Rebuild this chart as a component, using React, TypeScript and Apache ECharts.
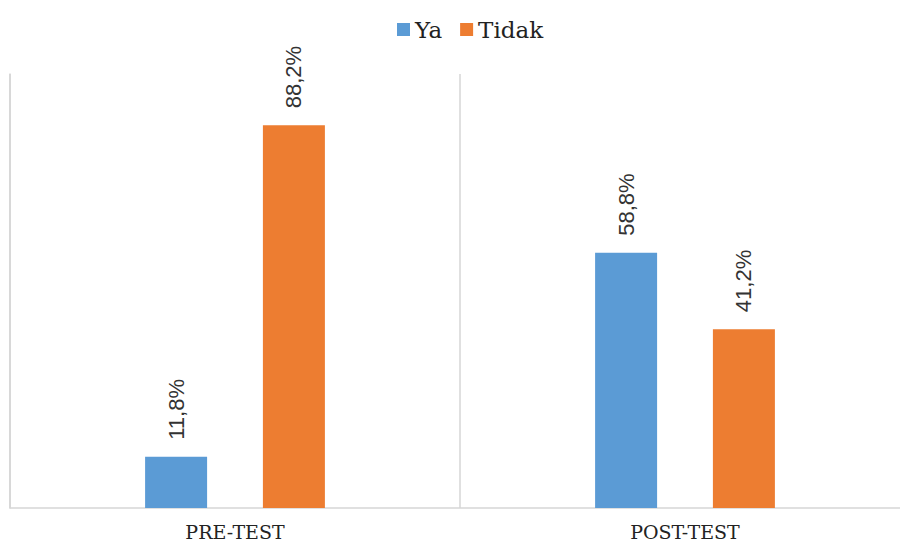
import React, { useEffect, useRef } from "react";
import * as echarts from "echarts";

const categories = ["PRE-TEST", "POST-TEST"];
const yaValues = [11.8, 58.8];
const tidakValues = [88.2, 41.2];
const seriesNames = ["Ya", "Tidak"];

export default function App() {
  const ref = useRef<HTMLDivElement>(null);
  useEffect(() => {
    document.body.style.margin = "0";
    const chart = echarts.init(ref.current!, undefined, { renderer: "svg" });
    const label = {
      show: true,
      position: "top",
      rotate: 90,
      align: "left",
      verticalAlign: "middle",
      distance: 17,
      color: "#333333",
      fontFamily: "Liberation Sans",
      fontSize: 22,
      formatter: (p: any) => p.value.toFixed(1).replace(".", ",") + "%",
    };
    chart.setOption({
      animation: false,
      legend: {
        data: seriesNames,
        left: 392,
        top: 13,
        icon: "rect",
        itemWidth: 13,
        itemHeight: 13,
        itemGap: 18,
        textStyle: { fontFamily: "DejaVu Serif", fontSize: 23, color: "#222" },
      },
      grid: { left: 10, right: 0, top: 74, bottom: 35, containLabel: false },
      xAxis: {
        type: "category",
        data: categories,
        axisLine: { show: true, lineStyle: { color: "#d6d6d6", width: 1.5 } },
        axisTick: { show: false },
        splitLine: { show: true, lineStyle: { color: "#d6d6d6", width: 1.5 } },
        axisLabel: {
          margin: 14,
          fontFamily: "DejaVu Serif",
          fontSize: 19,
          color: "#222",
        },
      },
      yAxis: {
        type: "value",
        min: 0,
        max: 100,
        axisLine: { show: true, lineStyle: { color: "#d6d6d6", width: 1.5 } },
        axisTick: { show: false },
        axisLabel: { show: false },
        splitLine: { show: false },
      },
      series: [
        {
          name: seriesNames[0],
          type: "bar",
          data: yaValues,
          barWidth: 62,
          barGap: "90%",
          itemStyle: { color: "#5B9BD5" },
          label,
        },
        {
          name: seriesNames[1],
          type: "bar",
          data: tidakValues,
          barWidth: 62,
          barGap: "90%",
          itemStyle: { color: "#ED7D31" },
          label,
        },
      ],
    });
    return () => chart.dispose();
  }, []);
  return (
    <div style={{ width: 900, height: 543, overflow: "hidden" }}>
      <div ref={ref} style={{ width: 910, height: 543 }} />
    </div>
  );
}
